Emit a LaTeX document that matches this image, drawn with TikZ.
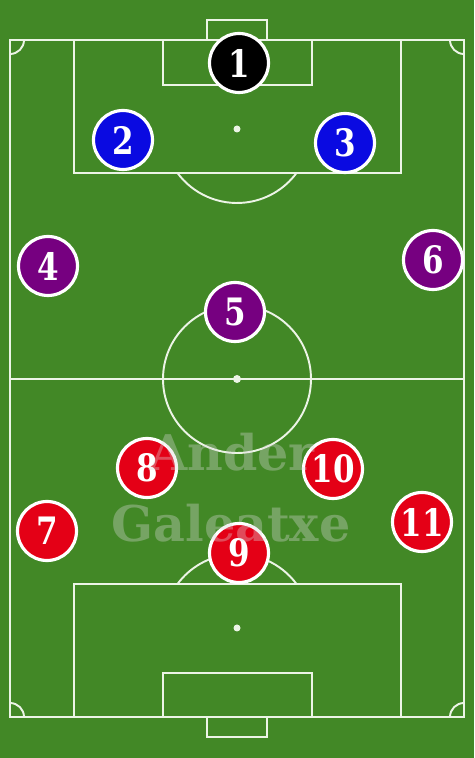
\documentclass[tikz,border=0pt]{standalone}
\usepackage{fontspec}
\setmainfont{DejaVu Serif}
\newfontfamily\numfont[FakeStretch=0.82]{DejaVu Serif}
\usepackage{tikz}
\usepackage{xcolor}

\definecolor{grass}{RGB}{66,136,38}
\definecolor{chalk}{RGB}{236,244,230}
\definecolor{kitblue}{RGB}{10,10,225}
\definecolor{kitpurple}{RGB}{118,0,128}
\definecolor{kitred}{RGB}{228,0,22}

\begin{document}
\begin{tikzpicture}[x = 0.02cm, y = 0.02cm,
        mark line/.style = {chalk, line width = 1.1pt},
        player/.style = {circle, draw = white, line width = 1.8pt, minimum size = 1.18cm,
            inner sep = 0pt, text = white, font = \numfont\fontsize{21.5}{21.5}\selectfont\bfseries},
        keeper/.style = {player, fill = black},
        defender/.style = {player, fill = kitblue},
        midfielder/.style = {player, fill = kitpurple},
        attacker/.style = {player, fill = kitred},
        watermark/.style = {text = white!85!black, opacity = 0.35, font = \fontsize{28}{28}\selectfont\bfseries}]

        % pitch
        \fill[grass] (0,0) rectangle (474,758);
        \useasboundingbox (0,0) rectangle (474,758);

        \draw[mark line] (10,41) rectangle (464,718);
        \draw[mark line] (10,379) -- (464,379);
        \draw[mark line] (237,379) circle (74);
        \fill[chalk] (237,379) circle (4);

        % corners
        \draw[mark line] (24,718) arc (0:-90:14);
        \draw[mark line] (450,718) arc (180:270:14);
        \draw[mark line] (24,41) arc (0:90:14);
        \draw[mark line] (450,41) arc (180:90:14);

        \begin{scope}
        % top half
        \draw[mark line] (207,718) rectangle (267,738);
        \draw[mark line] (163,673) rectangle (312,718);
        \draw[mark line] (74,585) rectangle (401,718);
        \fill[chalk] (237,629) circle (3.5);
        \draw[mark line] (237,629) ++(-143.5:74) arc (-143.5:-36.5:74);
        \end{scope}

        \begin{scope}
        % bottom half
        \draw[mark line] (207,21) rectangle (267,41);
        \draw[mark line] (163,41) rectangle (312,85);
        \draw[mark line] (74,41) rectangle (401,174);
        \fill[chalk] (237,130) circle (3.5);
        \draw[mark line] (237,130) ++(36.5:74) arc (36.5:143.5:74);
        \end{scope}

        % players
        \node[keeper] (p1) at (239,695) {1};

        \node[defender] (p2) at (123,618) {2};
        \node[defender] (p3) at (345,615) {3};

        \node[midfielder] (p4) at (48,492) {4};
        \node[midfielder] (p5) at (235,446) {5};
        \node[midfielder] (p6) at (433,498) {6};

        \node[attacker] (p7) at (47,227) {7};
        \node[attacker] (p8) at (147,290) {8};
        \node[attacker] (p9) at (239,205) {9};
        \node[attacker] (p10) at (333,289) {10};
        \node[attacker] (p11) at (422,236) {11};

        \node[watermark] (wm1) at (232,306) {Ander};
        \node[watermark] (wm2) at (231,235) {Galeatxe};
    \end{tikzpicture}
\end{document}
